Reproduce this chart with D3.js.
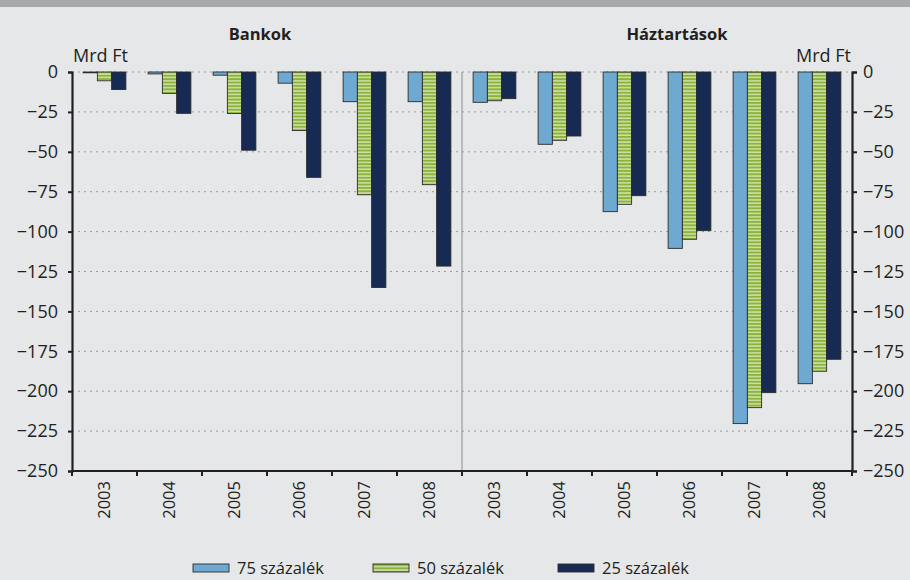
<!DOCTYPE html>
<html>
<head>
<meta charset="utf-8">
<script src="https://cdn.jsdelivr.net/npm/d3@7"></script>
<style>
  body { margin: 0; background: #e6e7e8; }
  svg { display: block; font-family: "Open Sans", sans-serif; }
</style>
</head>
<body>
<svg id="chart" width="910" height="580"></svg>
<script>
// data
const years = ["2003", "2004", "2005", "2006", "2007", "2008"];
const groups = ["Bankok", "Háztartások"];
const series = ["75 százalék", "50 százalék", "25 százalék"];
const bankok75 = [-0.5, -1.2, -2, -7, -18.6, -18.6];
const bankok50 = [-5.5, -13.4, -26, -36.7, -76.9, -70.6];
const bankok25 = [-11, -25.9, -49, -66, -135, -121.6];
const haz75 = [-19, -45.3, -87.5, -110.5, -220.3, -195.3];
const haz50 = [-18, -42.8, -82.9, -104.8, -210.3, -187.5];
const haz25 = [-16.7, -40.1, -77.5, -99.4, -200.9, -180];
const yTicks = [0, -25, -50, -75, -100, -125, -150, -175, -200, -225, -250];

const svg = d3.select("#chart");
const pLeft = 72, pRight = 852, pTop = 72, pBottom = 471;

svg.append("rect").attr("width", 910).attr("height", 580).attr("fill", "#e6e7e8");
svg.append("rect").attr("width", 910).attr("height", 7).attr("fill", "#a7a9ac");

// striped fill for the 50% series
const pat = svg.append("defs").append("pattern")
  .attr("id", "stripes").attr("patternUnits", "userSpaceOnUse")
  .attr("width", 10).attr("height", 3.4);
pat.append("rect").attr("width", 10).attr("height", 3.4).attr("fill", "#8ab33a");
pat.append("rect").attr("y", 1.9).attr("width", 10).attr("height", 1.5).attr("fill", "#cfe0a8");

const fills = ["#6ea9d1", "url(#stripes)", "#172a53"];

// rows: one per slot
const rows = [];
groups.forEach((g, gi) => {
  const vals = gi === 0 ? [bankok75, bankok50, bankok25] : [haz75, haz50, haz25];
  years.forEach((yr, i) => {
    rows.push({ key: g + yr, year: yr, values: vals.map(a => a[i]) });
  });
});

const x = d3.scaleBand().domain(rows.map(d => d.key)).range([pLeft, pRight]);
const xs = d3.scaleBand().domain(series).range([0, x.bandwidth()]).paddingOuter(0.78);
const y = d3.scaleLinear().domain([-250, 0]).range([pBottom, pTop]);

// grid
svg.append("g").selectAll("line").data(yTicks.filter(t => t > -250)).join("line")
  .attr("x1", pLeft).attr("x2", pRight)
  .attr("y1", d => y(d)).attr("y2", d => y(d))
  .attr("stroke", "#9a9b9d").attr("stroke-width", 1)
  .attr("stroke-dasharray", "2,4");

// separator between panels
svg.append("line")
  .attr("x1", x("Háztartások2003")).attr("x2", x("Háztartások2003"))
  .attr("y1", y(0)).attr("y2", y(-250))
  .attr("stroke", "#8a8b8d").attr("stroke-width", 1);

// bars
const gBars = svg.append("g").selectAll("g").data(rows).join("g")
  .attr("transform", d => `translate(${x(d.key)},0)`);
gBars.selectAll("rect")
  .data(d => d.values.map((v, i) => ({ s: series[i], v, i })))
  .join("rect")
  .attr("x", d => xs(d.s))
  .attr("width", xs.bandwidth())
  .attr("y", y(0))
  .attr("height", d => y(d.v) - y(0))
  .attr("fill", d => fills[d.i])
  .attr("stroke", "#2b2b2b").attr("stroke-width", 0.9);

// axes
const fmt = d => d === 0 ? "0" : "\u2212" + Math.abs(d);
const axL = svg.append("g").attr("transform", `translate(${pLeft},0)`)
  .call(d3.axisLeft(y).tickValues(yTicks).tickFormat(fmt).tickSize(4).tickPadding(10));
const axR = svg.append("g").attr("transform", `translate(${pRight},0)`)
  .call(d3.axisRight(y).tickValues(yTicks).tickFormat(fmt).tickSize(5).tickPadding(6));
[axL, axR].forEach(a => {
  a.select(".domain").attr("stroke", "#231f20").attr("stroke-width", 2.2);
  a.selectAll(".tick line").attr("stroke", "#231f20").attr("stroke-width", 2);
  a.selectAll("text").attr("font-size", 18).attr("fill", "#231f20")
    .attr("font-family", "Open Sans, sans-serif");
});

const axB = svg.append("g").attr("transform", `translate(0,${pBottom})`);
axB.append("line").attr("x1", pLeft).attr("x2", pRight).attr("stroke", "#231f20").attr("stroke-width", 2.2);
axB.selectAll("line.tk").data(rows.map(d => x(d.key)).concat([pRight])).join("line")
  .attr("class", "tk")
  .attr("x1", d => d).attr("x2", d => d).attr("y1", 0).attr("y2", 5)
  .attr("stroke", "#231f20").attr("stroke-width", 2);
axB.selectAll("text").data(rows).join("text")
  .attr("transform", d => `translate(${x(d.key) + x.bandwidth() / 2 - 1},10) rotate(-90)`)
  .attr("text-anchor", "end").attr("dominant-baseline", "central")
  .attr("font-size", 16.5).attr("fill", "#231f20")
  .text(d => d.year);

// titles and units
svg.append("text").attr("x", 260).attr("y", 40).attr("text-anchor", "middle")
  .attr("font-weight", "bold").attr("font-size", 16.5).attr("fill", "#231f20").text(groups[0]);
svg.append("text").attr("x", 677).attr("y", 40).attr("text-anchor", "middle")
  .attr("font-weight", "bold").attr("font-size", 16.5).attr("fill", "#231f20").text(groups[1]);
svg.append("text").attr("x", 73).attr("y", 62).attr("font-size", 18).attr("fill", "#231f20").text("Mrd Ft");
svg.append("text").attr("x", 851).attr("y", 62).attr("text-anchor", "end")
  .attr("font-size", 18).attr("fill", "#231f20").text("Mrd Ft");

// legend
const legX = [193, 373, 558];
const leg = svg.append("g").selectAll("g").data(series).join("g")
  .attr("transform", (d, i) => `translate(${legX[i]},564)`);
leg.append("rect").attr("width", 36).attr("height", 8)
  .attr("fill", (d, i) => fills[i]).attr("stroke", "#2b2b2b").attr("stroke-width", 0.9);
leg.append("text").attr("x", 44).attr("y", 10).attr("font-size", 16.5)
  .attr("fill", "#231f20").text(d => d);
</script>
</body>
</html>
